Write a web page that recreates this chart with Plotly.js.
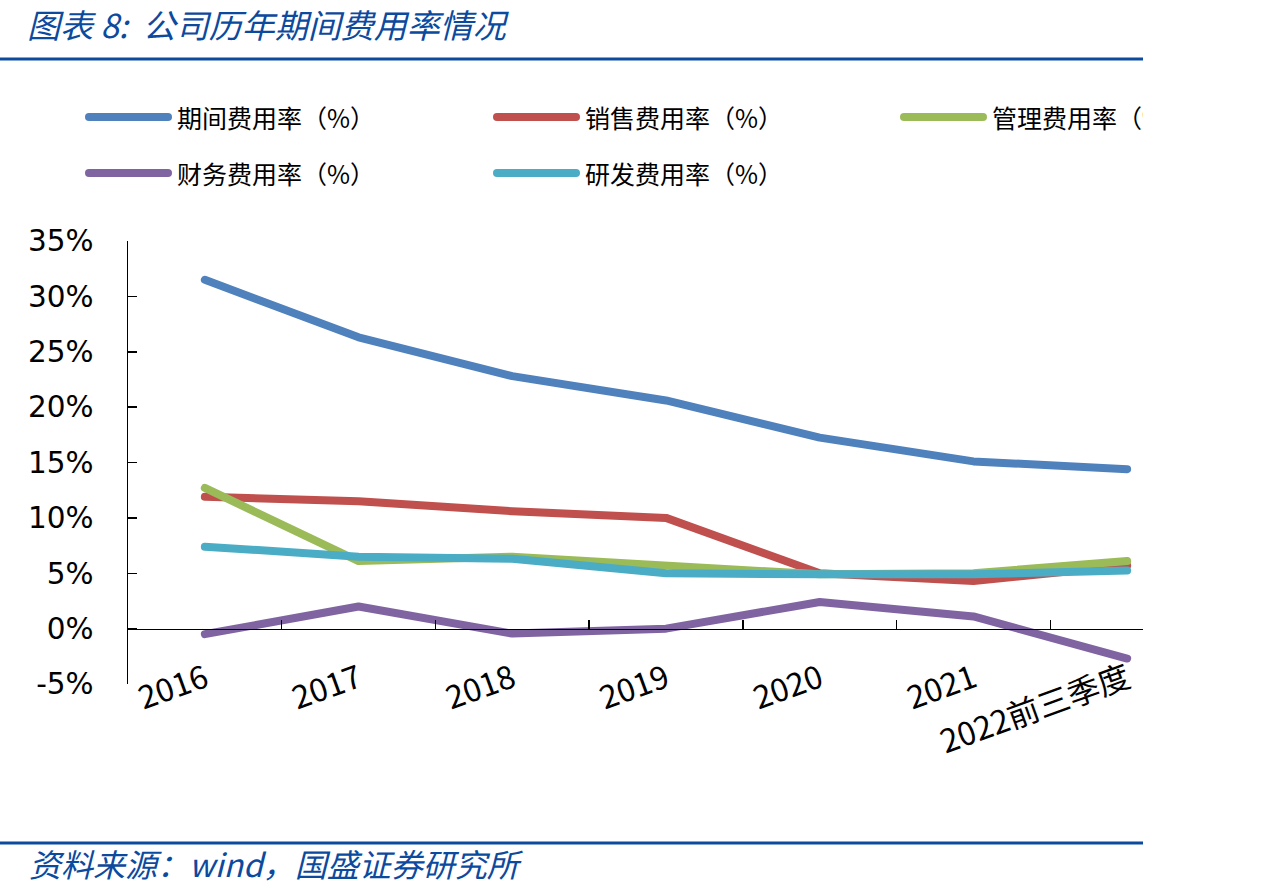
<!DOCTYPE html>
<html>
<head>
<meta charset="utf-8">
<script src="https://cdn.plot.ly/plotly-3.0.1.min.js"></script>
<style>
  html, body { margin: 0; padding: 0; background: #fff; }
  #clip { width: 1143px; height: 896px; overflow: hidden; position: relative; }
  #chart { width: 1262px; height: 896px; }
  .scatterlayer .js-line { stroke-linecap: round !important; stroke-linejoin: round !important; }
  .shapelayer path { stroke-linecap: round !important; }
</style>
</head>
<body>
<div id="clip"><div id="chart"></div></div>
<script>
// ---- data ----
const categories = ['2016', '2017', '2018', '2019', '2020', '2021', '2022前三季度'];
const seriesNames = ['期间费用率（%）', '销售费用率（%）', '管理费用率（%）', '财务费用率（%）', '研发费用率（%）'];
const periodRate  = [31.5, 26.3, 22.8, 20.6, 17.25, 15.1, 14.4];
const salesRate   = [11.9, 11.5, 10.6, 10.0, 5.0, 4.3, 5.7];
const adminRate   = [12.7, 6.1, 6.5, 5.7, 4.9, 5.0, 6.1];
const financeRate = [-0.5, 2.0, -0.45, 0.0, 2.4, 1.1, -2.7];
const rdRate      = [7.4, 6.5, 6.3, 5.0, 4.9, 4.9, 5.25];
const yTicks = [-5, 0, 5, 10, 15, 20, 25, 30, 35];
const yTickText = yTicks.map(v => v + '%');
const seriesColors = ['#4F81BD', '#C0504D', '#9BBB59', '#8064A2', '#4BACC6'];
const titleText = '图表 8:\u00a0\u00a0公司历年期间费用率情况';
const sourceText = '资料来源：wind，国盛证券研究所';

// ---- layout helpers (pixel -> paper) ----
const W = 1262, H = 896;
const mL = 128, mR = 58, mT = 241, mB = 212;
const pw = W - mL - mR, ph = H - mT - mB;
const px = x => (x - mL) / pw;
const py = y => (H - mB - y) / ph;

const allSeries = [periodRate, salesRate, adminRate, financeRate, rdRate];
const traces = allSeries.map((vals, i) => ({
  type: 'scatter', mode: 'lines', x: categories, y: vals, name: seriesNames[i],
  line: { color: seriesColors[i], width: 8 }, showlegend: false, hoverinfo: 'skip'
}));

const blue = '#0c4a9e';
const shapes = [
  { type: 'line', xref: 'paper', yref: 'paper', x0: px(0), x1: px(W), y0: py(59), y1: py(59), line: { color: blue, width: 3 } },
  { type: 'line', xref: 'paper', yref: 'paper', x0: px(0), x1: px(W), y0: py(843), y1: py(843), line: { color: blue, width: 3 } }
];
const annotations = [
  { xref: 'paper', yref: 'paper', x: px(25), y: py(24), xanchor: 'left', yanchor: 'middle', showarrow: false,
    text: titleText, font: { family: 'Noto Sans CJK SC', size: 33, color: blue, style: 'italic' } },
  { xref: 'paper', yref: 'paper', x: px(27), y: py(863), xanchor: 'left', yanchor: 'middle', showarrow: false,
    text: sourceText, font: { family: 'Noto Sans CJK SC', size: 32, color: blue, style: 'italic' } }
];
// manual legend
const legCols = [85, 493, 900];
const legRows = [117, 173];
seriesNames.forEach((n, i) => {
  const cx = legCols[i % 3], cy = legRows[Math.floor(i / 3)];
  shapes.push({ type: 'line', xref: 'paper', yref: 'paper', x0: px(cx + 4), x1: px(cx + 83), y0: py(cy), y1: py(cy),
    line: { color: seriesColors[i], width: 8 } });
  annotations.push({ xref: 'paper', yref: 'paper', x: px(cx + 90), y: py(cy), xanchor: 'left', yanchor: 'middle',
    showarrow: false, text: n, font: { family: 'Noto Sans CJK SC', size: 25, color: '#000' } });
});

const layout = {
  width: W, height: H,
  margin: { l: mL, r: mR, t: mT, b: mB, pad: 0 },
  paper_bgcolor: '#fff', plot_bgcolor: '#fff',
  showlegend: false,
  xaxis: {
    type: 'category', range: [-0.5, 6.5], anchor: 'free', position: (0 - (-5)) / 40,
    showline: true, linecolor: '#000', linewidth: 1.5, ticks: 'inside', ticklen: 9, tickcolor: '#000', tickwidth: 1.5,
    tickson: 'boundaries', tickangle: -20, showgrid: false, zeroline: false,
    ticklabelstandoff: 18,
    tickfont: { family: 'Noto Sans CJK SC', size: 32, color: '#000' }
  },
  yaxis: {
    range: [-5, 35], tickvals: yTicks, ticktext: yTickText,
    showline: true, linecolor: '#000', linewidth: 1.5, ticks: 'inside', ticklen: 9, tickcolor: '#000', tickwidth: 1.5,
    showgrid: false, zeroline: false, ticklabelstandoff: 27,
    tickfont: { family: 'DejaVu Sans', size: 29.5, color: '#000' }
  },
  shapes: shapes,
  annotations: annotations
};

Plotly.newPlot('chart', traces, layout, { displayModeBar: false, staticPlot: true });
</script>
</body>
</html>
